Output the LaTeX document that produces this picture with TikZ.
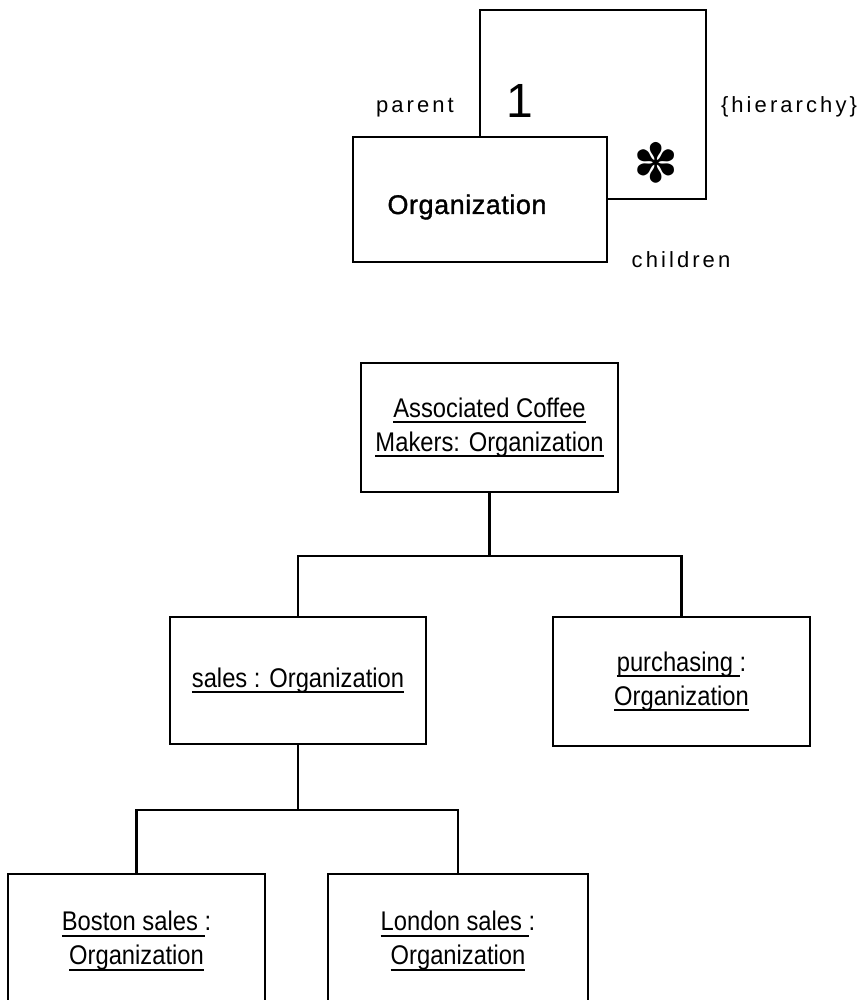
\documentclass[tikz,border=0pt]{standalone}
\usepackage{fontspec}
\setmainfont{Liberation Sans}
\newfontfamily\classfont{Liberation Sans}[LetterSpace=14]
\newfontfamily\namefont{Liberation Sans}[LetterSpace=2, FakeBold=1.2]
\newfontfamily\objfont{Liberation Sans}[FakeStretch=0.88]
\newfontfamily\symfont{DejaVu Sans}
% underline sitting just under the baseline
\newsavebox\ulbox
\newcommand\uln[1]{\sbox\ulbox{#1}\rlap{\rule[-6pt]{\wd\ulbox}{2pt}}\usebox\ulbox}
\tikzset{
  classbox/.style={draw, line width=2pt, minimum width=254pt, minimum height=125pt, inner sep=0pt},
  objbox/.style={draw, line width=2.2pt, inner sep=0pt, align=center,
    font=\objfont\fontsize{27}{34}\selectfont},
  wire/.style={line width=2.2pt},
  loopline/.style={line width=2pt},
  rolelabel/.style={font=\classfont\fontsize{22}{26}\selectfont, inner sep=0pt, anchor=base},
}
\begin{document}
\begin{tikzpicture}[x=1pt,y=-1pt]
\useasboundingbox (0,0) rectangle (867,1000);
\clip (0,0) rectangle (867,1000);

% class with its self-association
\node[classbox] (org) at (480,199.5) {};
\node[font=\namefont\fontsize{27}{32}\selectfont, inner sep=0pt, anchor=base] (orgname) at (467,214) {Organization};
\coordinate (loopTR) at (706,10);
\draw[loopline] (org.north) |- (loopTR) |- (org.east);
\node[rolelabel] (parent) at (415,113) {parent};
\node[font=\fontsize{48}{50}\selectfont, inner sep=0pt, anchor=base] (one) at (520,118) {1};
\node[font=\symfont\fontsize{54}{58}\selectfont, inner sep=0pt] (many) at (656,163) {✽};
\node[rolelabel] (hier) at (789,113) {\{hierarchy\}};
\node[rolelabel] (children) at (681,267) {children};

% object instances
\node[objbox, minimum width=257pt, minimum height=129pt] (acm) at (489.5,427.5)
  {\uln{Associated Coffee}\\\uln{Makers: Organization}};
\node[objbox, minimum width=256pt, minimum height=127pt] (sales) at (298,680.5)
  {\uln{sales : Organization}};
\node[objbox, minimum width=257pt, minimum height=129pt] (purch) at (681.5,681.5)
  {\uln{purchasing\ }:\\\uln{Organization}};
\node[objbox, minimum width=257pt, minimum height=134pt] (boston) at (136.5,941)
  {\uln{Boston sales\ }:\\\uln{Organization}};
\node[objbox, minimum width=260pt, minimum height=134pt] (london) at (458,941)
  {\uln{London sales\ }:\\\uln{Organization}};

% tree links
\coordinate (j1) at (489.5,556);
\coordinate (j2) at (298,810);
\draw[wire] (acm.south) -- (j1);
\draw[wire] (sales.north) |- (j1) -| (purch.north);
\draw[wire] (sales.south) -- (j2);
\draw[wire] (boston.north) |- (j2) -| (london.north);
\end{tikzpicture}
\end{document}
